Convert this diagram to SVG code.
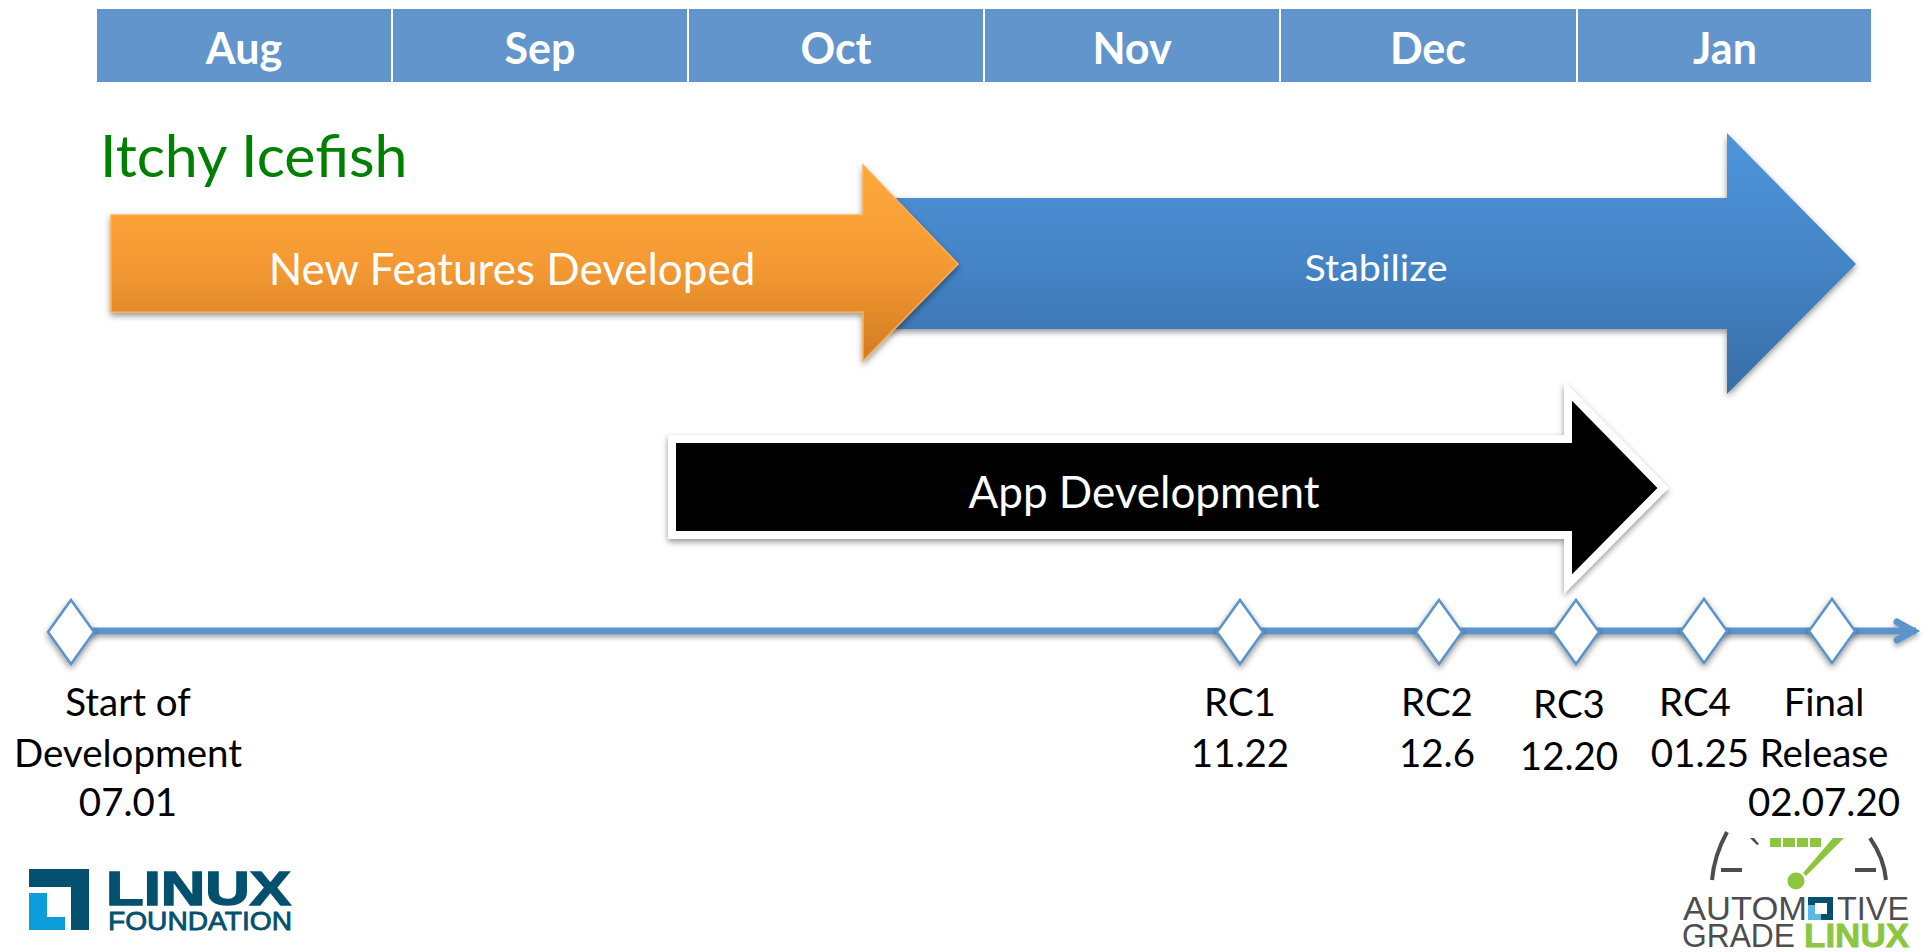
<svg xmlns="http://www.w3.org/2000/svg" width="1929" height="952" viewBox="0 0 1929 952">
<style>
text{font-family:Lato,"Open Sans",sans-serif}
.h{font-size:43px;font-weight:700;fill:#fff;text-anchor:middle}
.l{font-size:38.5px;fill:#000;text-anchor:middle}
.a{font-size:44px;fill:#fff;text-anchor:middle}
.cell{fill:#6295cc}
.dm{fill:#fff;stroke:#5b93c9;stroke-width:2.5;filter:url(#s)}
.lf{fill:#03506f;font-family:"Liberation Sans",sans-serif;font-weight:700}
.ag{fill:#4d4d4f;font-family:"Liberation Sans",sans-serif;font-size:33px}
</style>
<defs>
<linearGradient id="o" x1="0" y1="0" x2="0" y2="1"><stop offset="0" stop-color="#ffa83a"/><stop offset=".5" stop-color="#f59a33"/><stop offset="1" stop-color="#d17c22"/></linearGradient>
<linearGradient id="b" x1="0" y1="0" x2="0" y2="1"><stop offset="0" stop-color="#4f95dc"/><stop offset=".5" stop-color="#4484c6"/><stop offset="1" stop-color="#386da6"/></linearGradient>
<filter id="s" x="-10%" y="-20%" width="120%" height="150%"><feDropShadow dx="0" dy="3" stdDeviation="3" flood-color="#000" flood-opacity=".42"/></filter>
<filter id="ls" filterUnits="userSpaceOnUse" x="40" y="600" width="1889" height="70"><feDropShadow dx="0" dy="3" stdDeviation="2.5" flood-color="#000" flood-opacity=".35"/></filter>
<marker id="ah" markerUnits="userSpaceOnUse" markerWidth="40" markerHeight="40" refX="30" refY="20" orient="auto"><path d="M11 11L27 20L11 29" fill="none" stroke="#5b93c9" stroke-width="7" stroke-linecap="round" stroke-linejoin="miter"/></marker>
</defs>
<g id="months">
<rect class="cell" x="97" y="9" width="294" height="73"/><rect class="cell" x="393" y="9" width="294" height="73"/><rect class="cell" x="689" y="9" width="294" height="73"/><rect class="cell" x="985" y="9" width="294" height="73"/><rect class="cell" x="1281" y="9" width="295" height="73"/><rect class="cell" x="1578" y="9" width="293" height="73"/>
<text class="h" x="244" y="64">Aug</text><text class="h" x="540" y="64">Sep</text><text class="h" x="836" y="64">Oct</text><text class="h" x="1132" y="64">Nov</text><text class="h" x="1428" y="64">Dec</text><text class="h" x="1725" y="64">Jan</text>
</g>
<g id="title"><text x="100" y="177" font-size="59" fill="#008000">Itchy Icefish</text></g>
<g id="stabilize"><path d="M880 198H1727V133L1856 264L1727 394V329H880Z" fill="url(#b)" filter="url(#s)"/><text class="a" x="1376" y="281" style="font-size:36px" textLength="143" lengthAdjust="spacingAndGlyphs">Stabilize</text></g>
<g id="features"><path d="M111 215H863V165L958 264L863 361V312H111Z" fill="url(#o)" stroke="#ffae55" stroke-width="1.5" filter="url(#s)"/><text class="a" x="512" y="285">New Features Developed</text></g>
<g id="app"><path d="M672 439H1568V391L1663 488L1568 584V535H672Z" fill="#000" stroke="#fff" stroke-width="8" filter="url(#s)"/><text class="a" x="1144" y="508">App Development</text></g>
<g id="connectors"><line x1="72" y1="631" x2="1916" y2="631" stroke="#5b93c9" stroke-width="7" marker-end="url(#ah)" filter="url(#ls)"/></g>
<g id="m0"><path class="dm" d="M71 600L94 632L71 664L48 632Z"/><text class="l" x="128" y="716">Start of</text><text class="l" x="128" y="767">Development</text><text class="l" x="128" y="816">07.01</text></g>
<g id="m1"><path class="dm" d="M1240 600L1263 632L1240 664L1217 632Z"/><text class="l" x="1240" y="716">RC1</text><text class="l" x="1240" y="767">11.22</text></g>
<g id="m2"><path class="dm" d="M1439 600L1462 632L1439 664L1416 632Z"/><text class="l" x="1437" y="716">RC2</text><text class="l" x="1437" y="767">12.6</text></g>
<g id="m3"><path class="dm" d="M1576 600L1599 632L1576 664L1553 632Z"/><text class="l" x="1569" y="718">RC3</text><text class="l" x="1569" y="770">12.20</text></g>
<g id="m4"><path class="dm" d="M1704 599L1727 631L1704 663L1681 631Z"/><text class="l" x="1695" y="716">RC4</text><text class="l" x="1700" y="767">01.25</text></g>
<g id="m5"><path class="dm" d="M1832 599L1855 631L1832 663L1809 631Z"/><text class="l" x="1824" y="716">Final</text><text class="l" x="1824" y="767">Release</text><text class="l" x="1824" y="816">02.07.20</text></g>
<g id="lf-logo">
<path d="M29 869H89V930H71V887H29Z" fill="#03506f"/><path d="M29 893H47V917H65V930H29Z" fill="#0d9ddb"/>
<text class="lf" x="106" y="905" font-size="49" textLength="185" lengthAdjust="spacingAndGlyphs" stroke="#03506f" stroke-width="1.5">LINUX</text>
<text class="lf" x="108" y="930" font-size="26" textLength="184" lengthAdjust="spacingAndGlyphs" style="font-weight:400" stroke="#03506f" stroke-width=".8">FOUNDATION</text>
</g>
<g id="agl-logo">
<g fill="none" stroke="#4d4d4f" stroke-width="4"><path d="M1712 880Q1714 856 1727 832"/><path d="M1886 880Q1884 858 1870 838"/></g>
<g fill="#4d4d4f"><rect x="1721" y="868" width="21" height="4"/><rect x="1855" y="868" width="21" height="4"/><path d="M1750 838L1754 838L1759 844L1757 845Z"/></g>
<g fill="#8cc63f"><rect x="1770" y="838" width="11" height="9"/><rect x="1783" y="838" width="12" height="9"/><rect x="1797" y="838" width="11" height="9"/><rect x="1810" y="838" width="11" height="9"/><path d="M1833 838H1844L1806 876L1803 873Z"/><circle cx="1796" cy="881" r="8.5"/></g>
<text class="ag" x="1683" y="920" textLength="124" lengthAdjust="spacingAndGlyphs">AUTOM</text>
<text class="ag" x="1837" y="920" textLength="72" lengthAdjust="spacingAndGlyphs">TIVE</text>
<path d="M1808 897H1833V920H1815V914H1827V903H1815V908H1808Z" fill="#03506f"/><path d="M1808 905H1815V914H1821V920H1808Z" fill="#5cb8e6"/>
<text class="ag" x="1682" y="947" textLength="113" lengthAdjust="spacingAndGlyphs">GRADE</text>
<text x="1804" y="947" font-size="34" font-weight="700" textLength="105" lengthAdjust="spacingAndGlyphs" style="font-family:'Liberation Sans',sans-serif" fill="#8cc63f" stroke="#8cc63f" stroke-width=".8">LINUX</text>
</g>
</svg>
